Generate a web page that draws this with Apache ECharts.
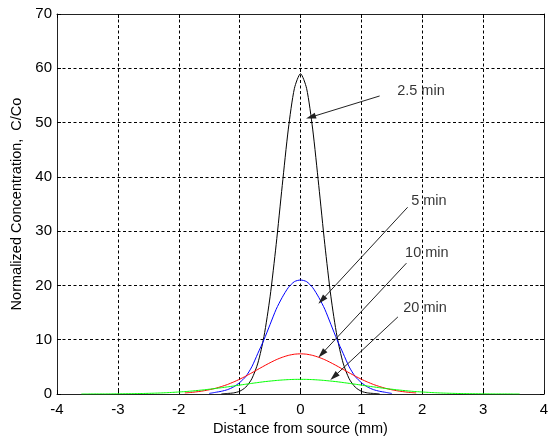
<!DOCTYPE html>
<html>
<head>
<meta charset="utf-8">
<script src="https://cdn.jsdelivr.net/npm/echarts@6/dist/echarts.min.js"></script>
<style>
html, body { margin: 0; padding: 0; background: #fff; }
#chart { width: 548px; height: 436px; }
</style>
</head>
<body>
<div id="chart"></div>
<script>
// curves (x in mm, C/Co)
const xBlack = [-1.3, -1.2, -1.1, -1.0, -0.9, -0.8, -0.7, -0.6, -0.5, -0.4, -0.3, -0.2, -0.1, 0,
    0.1, 0.2, 0.3, 0.4, 0.5, 0.6, 0.7, 0.8, 0.9, 1.0, 1.1, 1.2, 1.3];
const yBlack = [0, 0.1, 0.2, 0.5, 1.25, 2.8, 5.7, 10.6, 17.9, 27.5, 38.4, 48.8, 56.3, 59,
    56.3, 48.8, 38.4, 27.5, 17.9, 10.6, 5.7, 2.8, 1.25, 0.5, 0.2, 0.1, 0];

const xBlue = [-1.5, -1.4, -1.3, -1.2, -1.1, -1.0, -0.9, -0.8, -0.7, -0.6, -0.5, -0.4, -0.3, -0.2, -0.1, 0,
    0.1, 0.2, 0.3, 0.4, 0.5, 0.6, 0.7, 0.8, 0.9, 1.0, 1.1, 1.2, 1.3, 1.4, 1.5];
const yBlue = [0.1, 0.3, 0.5, 0.8, 1.3, 2.1, 3.2, 5.0, 7.5, 10.0, 12.8, 15.6, 17.8, 19.6, 20.7, 21.0,
    20.7, 19.6, 17.8, 15.6, 12.8, 10.0, 7.5, 5.0, 3.2, 2.1, 1.3, 0.8, 0.5, 0.3, 0.1];

const xRed = [-1.9, -1.8, -1.7, -1.6, -1.5, -1.4, -1.3, -1.2, -1.1, -1.0, -0.9, -0.8, -0.7, -0.6, -0.5,
    -0.4, -0.3, -0.2, -0.1, 0, 0.1, 0.2, 0.3, 0.4, 0.5, 0.6, 0.7, 0.8, 0.9, 1.0, 1.1, 1.2, 1.3, 1.4,
    1.5, 1.6, 1.7, 1.8, 1.9];
const yRed = [0.2, 0.29, 0.41, 0.57, 0.78, 1.04, 1.37, 1.75, 2.21, 2.72, 3.29, 3.90, 4.53, 5.16, 5.76,
    6.31, 6.76, 7.11, 7.33, 7.4, 7.33, 7.11, 6.76, 6.31, 5.76, 5.16, 4.53, 3.90, 3.29, 2.72, 2.21, 1.75,
    1.37, 1.04, 0.78, 0.57, 0.41, 0.29, 0.2];

const xGreen = [-3.6, -3.5, -3.4, -3.3, -3.2, -3.1, -3.0, -2.9, -2.8, -2.7, -2.6, -2.5, -2.4, -2.3, -2.2,
    -2.1, -2.0, -1.9, -1.8, -1.7, -1.6, -1.5, -1.4, -1.3, -1.2, -1.1, -1.0, -0.9, -0.8, -0.7, -0.6,
    -0.5, -0.4, -0.3, -0.2, -0.1, 0, 0.1, 0.2, 0.3, 0.4, 0.5, 0.6, 0.7, 0.8, 0.9, 1.0, 1.1, 1.2, 1.3,
    1.4, 1.5, 1.6, 1.7, 1.8, 1.9, 2.0, 2.1, 2.2, 2.3, 2.4, 2.5, 2.6, 2.7, 2.8, 2.9, 3.0, 3.1, 3.2,
    3.3, 3.4, 3.5, 3.6];
const yGreen = [0, 0, 0.01, 0.01, 0.01, 0.02, 0.03, 0.04, 0.05, 0.07, 0.09, 0.12, 0.15, 0.19, 0.24,
    0.30, 0.37, 0.44, 0.53, 0.64, 0.75, 0.88, 1.01, 1.16, 1.31, 1.47, 1.64, 1.80, 1.96, 2.11, 2.26,
    2.38, 2.49, 2.58, 2.65, 2.69, 2.7, 2.69, 2.65, 2.58, 2.49, 2.38, 2.26, 2.11, 1.96, 1.80, 1.64,
    1.47, 1.31, 1.16, 1.01, 0.88, 0.75, 0.64, 0.53, 0.44, 0.37, 0.30, 0.24, 0.19, 0.15, 0.12, 0.09,
    0.07, 0.05, 0.04, 0.03, 0.02, 0.01, 0.01, 0.01, 0, 0];

// annotations
const annLabels = ['2.5 min', '5 min', '10 min', '20 min'];
const annTextAt = [[1.58, 55.8], [1.81, 35.5], [1.71, 26.0], [1.68, 15.8]];
const arrowFrom = [[1.30, 54.9], [1.76, 34.4], [1.74, 24.1], [1.60, 14.2]];
const arrowTo = [[0.17, 51.0], [0.35, 17.3], [0.35, 7.4], [0.55, 3.2]];

const pairs = (xs, ys) => xs.map((x, i) => [x, ys[i]]);
const font = 'Liberation Sans, Arial, sans-serif';
const frame = {show: true, onZero: false, lineStyle: {color: '#222', width: 1}};
const grid = {show: true, lineStyle: {color: '#000', width: 1, type: [3, 2.5]}};

const curve = (name, xs, ys, color) => ({
    name: name,
    type: 'line',
    data: pairs(xs, ys),
    showSymbol: false,
    smooth: 0.25,
    lineStyle: {color: color, width: 1},
    itemStyle: {color: color}
});

const option = {
    animation: false,
    backgroundColor: '#fff',
    grid: {left: 57, right: 4, top: 14, bottom: 42, outerBoundsMode: 'none'},
    xAxis: [{
        type: 'value', min: -4, max: 4, interval: 1,
        name: 'Distance from source (mm)',
        nameLocation: 'middle', nameGap: 26,
        nameTextStyle: {color: '#000', fontSize: 14.5, fontFamily: font},
        axisLine: frame,
        axisTick: {inside: true, length: 4, lineStyle: {color: '#000'}},
        axisLabel: {margin: 8, color: '#000', fontSize: 15, fontFamily: font},
        splitLine: grid
    }, {
        type: 'value', min: -4, max: 4, interval: 1, position: 'top',
        axisLine: frame,
        axisTick: {inside: true, length: 4, lineStyle: {color: '#000'}},
        axisLabel: {show: false},
        splitLine: {show: false}
    }],
    yAxis: [{
        type: 'value', min: 0, max: 70, interval: 10,
        name: 'Normalized Concentration,  C/Co',
        nameLocation: 'middle', nameGap: 25,
        nameTextStyle: {color: '#000', fontSize: 14.5, fontFamily: font},
        axisLine: frame,
        axisTick: {show: true, inside: true, length: 4, lineStyle: {color: '#000'}},
        axisLabel: {margin: 5, color: '#000', fontSize: 15, fontFamily: font},
        splitLine: grid
    }, {
        type: 'value', min: 0, max: 70, interval: 10, position: 'right',
        axisLine: frame,
        axisTick: {show: true, inside: true, length: 4, lineStyle: {color: '#000'}},
        axisLabel: {show: false},
        splitLine: {show: false}
    }],
    series: [
        curve('2.5 min', xBlack, yBlack, '#000000'),
        curve('5 min', xBlue, yBlue, '#0000ff'),
        curve('10 min', xRed, yRed, '#ff0000'),
        curve('20 min', xGreen, yGreen, '#00ff00'),
        {
            name: 'labels',
            type: 'scatter',
            symbolSize: 1,
            itemStyle: {color: 'rgba(0,0,0,0)'},
            data: annLabels.map((t, i) => ({name: t, value: annTextAt[i]})),
            label: {
                show: true, position: 'right', distance: 0,
                formatter: p => p.name,
                color: '#000', fontSize: 14.5, fontFamily: font
            },
            markLine: {
                silent: true,
                symbol: ['none', 'triangle'],
                symbolSize: [6, 10],
                label: {show: false},
                lineStyle: {color: '#222', width: 1, type: 'solid'},
                data: arrowFrom.map((p, i) => [{coord: p}, {coord: arrowTo[i]}])
            }
        }
    ]
};

const myChart = echarts.init(document.getElementById('chart'));
myChart.setOption(option);
</script>
</body>
</html>
